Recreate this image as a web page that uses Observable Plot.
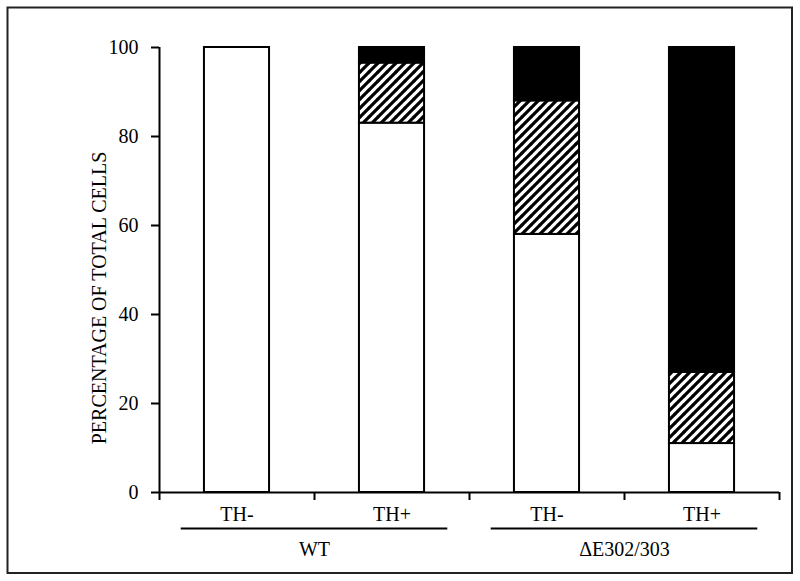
<!DOCTYPE html>
<html>
<head>
<meta charset="utf-8">
<script src="https://cdn.jsdelivr.net/npm/d3@7"></script>
<script src="https://cdn.jsdelivr.net/npm/@observablehq/plot@0.6"></script>
<style>
  html, body { margin: 0; padding: 0; background: white; }
</style>
</head>
<body>
<div id="chart"></div>
<script>
// ---- data ----
const categories = ["TH-", "TH+", "TH-", "TH+"];
const groups = ["WT", "\u0394E302/303"];
const whiteVals = [100, 83, 58, 11];
const hatchVals = [0, 13.5, 30, 16];
const blackVals = [0, 3.5, 12, 73];
const yTicks = [0, 20, 40, 60, 80, 100];
const yLabel = "PERCENTAGE OF TOTAL CELLS";

// build stacked segments
const half = 0.21;
function segs(kind) {
  return categories.map((c, i) => {
    const w = whiteVals[i], h = hatchVals[i], b = blackVals[i];
    let y1, y2;
    if (kind === "white") { y1 = 0; y2 = w; }
    else if (kind === "hatch") { y1 = w; y2 = w + h; }
    else { y1 = w + h; y2 = w + h + b; }
    return {i, y1, y2, v: y2 - y1};
  }).filter(d => d.v > 0);
}

const font = "'Liberation Serif', 'Times New Roman', serif";

const svg = Plot.plot({
  width: 800,
  height: 581,
  marginLeft: 159,
  marginRight: 21,
  marginTop: 47,
  marginBottom: 89,
  x: {domain: [0, 4]},
  y: {domain: [0, 100]},
  style: {fontFamily: font, fontSize: "20px", color: "black", background: "white"},
  marks: [
    Plot.rect(segs("white"), {x1: d => d.i + 0.5 - half, x2: d => d.i + 0.5 + half, y1: "y1", y2: "y2", fill: "white", stroke: "black", strokeWidth: 2}),
    Plot.rect(segs("hatch"), {x1: d => d.i + 0.5 - half, x2: d => d.i + 0.5 + half, y1: "y1", y2: "y2", fill: "url(#hatch)", stroke: "black", strokeWidth: 2}),
    Plot.rect(segs("black"), {x1: d => d.i + 0.5 - half, x2: d => d.i + 0.5 + half, y1: "y1", y2: "y2", fill: "black", stroke: "black", strokeWidth: 2}),
    Plot.axisY({ticks: yTicks, tickSize: 8, tickPadding: 13, label: null, strokeWidth: 2, fontSize: 20}),
    Plot.axisX({ticks: [0, 1, 2, 3, 4], tickSize: 8, tickFormat: () => "", label: null, strokeWidth: 2}),
    Plot.ruleX([0], {y1: 0, y2: 100, strokeWidth: 2}),
    Plot.ruleY([0], {x1: 0, x2: 4, strokeWidth: 2}),
    Plot.text(categories, {x: (d, i) => i + 0.5, y: 0, dy: 22, text: d => d, lineAnchor: "middle", fontSize: 20}),
    Plot.ruleY(groups, {x1: (d, i) => 2 * i + 0.14, x2: (d, i) => 2 * i + 1.86, y: 0, dy: 36, strokeWidth: 2}),
    Plot.text(groups, {x: (d, i) => 2 * i + 1, y: 0, dy: 57, text: d => d, lineAnchor: "middle", fontSize: 20}),
    Plot.text([yLabel], {frameAnchor: "left", dx: -60, dy: 28, rotate: -90, text: d => d, textAnchor: "middle", lineAnchor: "middle", fontSize: 20})
  ]
});

// hatch pattern + outer border
const s = d3.select(svg);
const defs = s.insert("defs", ":first-child");
const pat = defs.append("pattern")
  .attr("id", "hatch")
  .attr("patternUnits", "userSpaceOnUse")
  .attr("width", 9).attr("height", 9);
pat.append("rect").attr("width", 9).attr("height", 9).attr("fill", "white");
pat.append("path")
  .attr("d", "M-1,1 L1,-1 M0,9 L9,0 M8,10 L10,8")
  .attr("stroke", "black").attr("stroke-width", 3.2);
s.append("rect")
  .attr("x", 7.5).attr("y", 7.5)
  .attr("width", 784.5).attr("height", 565.5)
  .attr("fill", "none").attr("stroke", "#222").attr("stroke-width", 2);

document.getElementById("chart").appendChild(svg);
</script>
</body>
</html>
